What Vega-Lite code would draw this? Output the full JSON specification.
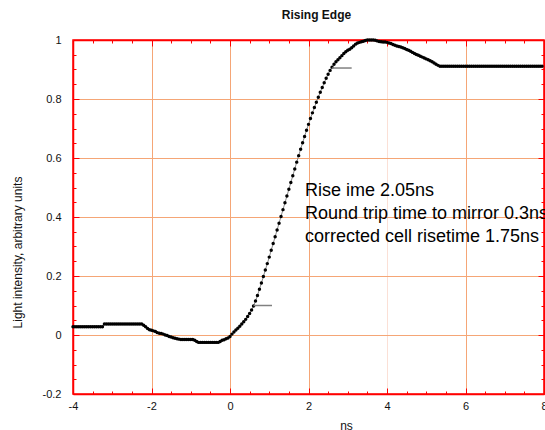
{
  "$schema": "https://vega.github.io/schema/vega-lite/v6.json",
  "autosize": {"type": "none"},
  "padding": {"left": 73, "top": 40, "right": 1, "bottom": 36},
  "width": 471,
  "height": 354,
  "title": {"text": "Rising  Edge", "font": "Liberation Sans", "fontSize": 12, "fontWeight": "bold", "color": "#111", "offset": 12, "dx": 8},
  "config": {
    "view": {"stroke": "#ff0000", "strokeWidth": 1.5},
    "font": "Liberation Sans"
  },
  "datasets": {
    "curve": [
      {"t":-4,"v":0.028},{"t":-3.95,"v":0.028},{"t":-3.9,"v":0.028},{"t":-3.85,"v":0.028},{"t":-3.8,"v":0.028},{"t":-3.75,"v":0.028},{"t":-3.7,"v":0.028},{"t":-3.65,"v":0.028},{"t":-3.6,"v":0.028},{"t":-3.55,"v":0.028},{"t":-3.5,"v":0.028},{"t":-3.45,"v":0.028},{"t":-3.4,"v":0.028},{"t":-3.35,"v":0.028},{"t":-3.3,"v":0.028},{"t":-3.25,"v":0.028},
      {"t":-3.2,"v":0.037},{"t":-3.15,"v":0.037},{"t":-3.1,"v":0.037},{"t":-3.05,"v":0.037},{"t":-3,"v":0.037},{"t":-2.95,"v":0.037},{"t":-2.9,"v":0.037},{"t":-2.85,"v":0.037},{"t":-2.8,"v":0.037},{"t":-2.75,"v":0.037},{"t":-2.7,"v":0.037},{"t":-2.65,"v":0.037},{"t":-2.6,"v":0.037},{"t":-2.55,"v":0.037},{"t":-2.5,"v":0.037},{"t":-2.45,"v":0.037},{"t":-2.4,"v":0.037},{"t":-2.35,"v":0.037},{"t":-2.3,"v":0.037},{"t":-2.25,"v":0.037},
      {"t":-2.2,"v":0.033},{"t":-2.15,"v":0.028},{"t":-2.1,"v":0.022},{"t":-2.05,"v":0.018},{"t":-2,"v":0.016},{"t":-1.95,"v":0.014},{"t":-1.9,"v":0.012},{"t":-1.85,"v":0.008},{"t":-1.8,"v":0.006},{"t":-1.75,"v":0.005},{"t":-1.7,"v":0.003},{"t":-1.65,"v":0.0},{"t":-1.6,"v":-0.002},{"t":-1.55,"v":-0.005},{"t":-1.5,"v":-0.007},{"t":-1.45,"v":-0.009},{"t":-1.4,"v":-0.011},{"t":-1.35,"v":-0.013},{"t":-1.3,"v":-0.014},
      {"t":-1.25,"v":-0.015},{"t":-1.2,"v":-0.015},{"t":-1.15,"v":-0.015},{"t":-1.1,"v":-0.015},{"t":-1.05,"v":-0.015},{"t":-1,"v":-0.015},{"t":-0.95,"v":-0.015},
      {"t":-0.9,"v":-0.018},{"t":-0.85,"v":-0.022},
      {"t":-0.8,"v":-0.025},{"t":-0.75,"v":-0.025},{"t":-0.7,"v":-0.025},{"t":-0.65,"v":-0.025},{"t":-0.6,"v":-0.025},{"t":-0.55,"v":-0.025},{"t":-0.5,"v":-0.025},{"t":-0.45,"v":-0.025},{"t":-0.4,"v":-0.025},{"t":-0.35,"v":-0.025},{"t":-0.3,"v":-0.025},
      {"t":-0.25,"v":-0.022},{"t":-0.2,"v":-0.018},{"t":-0.15,"v":-0.016},{"t":-0.1,"v":-0.013},{"t":-0.05,"v":-0.01},{"t":0,"v":-0.005},
      {"t":0.05,"v":0.003},{"t":0.1,"v":0.01},{"t":0.15,"v":0.017},{"t":0.2,"v":0.023},{"t":0.25,"v":0.03},{"t":0.3,"v":0.037},{"t":0.35,"v":0.045},{"t":0.4,"v":0.053},{"t":0.45,"v":0.063},{"t":0.5,"v":0.073},{"t":0.55,"v":0.085},{"t":0.6,"v":0.098},
      {"t":0.65,"v":0.115},{"t":0.7,"v":0.134},{"t":0.75,"v":0.155},{"t":0.8,"v":0.176},{"t":0.85,"v":0.198},{"t":0.9,"v":0.22},{"t":0.95,"v":0.242},{"t":1,"v":0.264},{"t":1.05,"v":0.287},{"t":1.1,"v":0.31},{"t":1.15,"v":0.333},{"t":1.2,"v":0.356},{"t":1.25,"v":0.379},{"t":1.3,"v":0.402},{"t":1.35,"v":0.425},{"t":1.4,"v":0.448},{"t":1.45,"v":0.471},{"t":1.5,"v":0.494},{"t":1.55,"v":0.517},{"t":1.6,"v":0.54},{"t":1.65,"v":0.563},{"t":1.7,"v":0.586},{"t":1.75,"v":0.608},{"t":1.8,"v":0.63},{"t":1.85,"v":0.652},{"t":1.9,"v":0.673},{"t":1.95,"v":0.694},{"t":2,"v":0.714},{"t":2.05,"v":0.734},{"t":2.1,"v":0.753},{"t":2.15,"v":0.771},{"t":2.2,"v":0.789},{"t":2.25,"v":0.806},{"t":2.3,"v":0.823},{"t":2.35,"v":0.839},{"t":2.4,"v":0.855},{"t":2.45,"v":0.87},{"t":2.5,"v":0.884},{"t":2.55,"v":0.897},{"t":2.6,"v":0.908},
      {"t":2.65,"v":0.918},{"t":2.7,"v":0.926},{"t":2.75,"v":0.933},{"t":2.8,"v":0.94},{"t":2.85,"v":0.947},{"t":2.9,"v":0.954},{"t":2.95,"v":0.96},{"t":3,"v":0.965},{"t":3.05,"v":0.969},{"t":3.1,"v":0.974},{"t":3.15,"v":0.98},{"t":3.2,"v":0.986},{"t":3.25,"v":0.99},{"t":3.3,"v":0.992},{"t":3.35,"v":0.994},{"t":3.4,"v":0.996},{"t":3.45,"v":0.998},{"t":3.5,"v":1.0},{"t":3.55,"v":1.0},{"t":3.6,"v":1.0},{"t":3.65,"v":1.0},{"t":3.7,"v":0.999},{"t":3.75,"v":0.997},{"t":3.8,"v":0.995},{"t":3.85,"v":0.994},{"t":3.9,"v":0.993},{"t":3.95,"v":0.993},
      {"t":4,"v":0.992},{"t":4.05,"v":0.99},{"t":4.1,"v":0.988},{"t":4.15,"v":0.985},{"t":4.2,"v":0.982},{"t":4.25,"v":0.98},{"t":4.3,"v":0.978},{"t":4.35,"v":0.976},{"t":4.4,"v":0.974},{"t":4.45,"v":0.971},{"t":4.5,"v":0.968},{"t":4.55,"v":0.965},{"t":4.6,"v":0.962},{"t":4.65,"v":0.958},{"t":4.7,"v":0.954},{"t":4.75,"v":0.951},{"t":4.8,"v":0.948},{"t":4.85,"v":0.945},{"t":4.9,"v":0.942},{"t":4.95,"v":0.939},{"t":5,"v":0.936},{"t":5.05,"v":0.933},{"t":5.1,"v":0.93},{"t":5.15,"v":0.926},{"t":5.2,"v":0.922},{"t":5.25,"v":0.918},{"t":5.3,"v":0.914},
      {"t":5.35,"v":0.911},{"t":5.4,"v":0.911},{"t":5.45,"v":0.911},{"t":5.5,"v":0.911},{"t":5.55,"v":0.911},{"t":5.6,"v":0.911},{"t":5.65,"v":0.911},{"t":5.7,"v":0.911},{"t":5.75,"v":0.911},{"t":5.8,"v":0.911},{"t":5.85,"v":0.911},{"t":5.9,"v":0.911},{"t":5.95,"v":0.911},{"t":6,"v":0.911},{"t":6.05,"v":0.911},{"t":6.1,"v":0.911},{"t":6.15,"v":0.911},{"t":6.2,"v":0.911},{"t":6.25,"v":0.911},{"t":6.3,"v":0.911},{"t":6.35,"v":0.911},{"t":6.4,"v":0.911},{"t":6.45,"v":0.911},{"t":6.5,"v":0.911},{"t":6.55,"v":0.911},{"t":6.6,"v":0.911},{"t":6.65,"v":0.911},{"t":6.7,"v":0.911},{"t":6.75,"v":0.911},{"t":6.8,"v":0.911},{"t":6.85,"v":0.911},{"t":6.9,"v":0.911},{"t":6.95,"v":0.911},{"t":7,"v":0.911},{"t":7.05,"v":0.911},{"t":7.1,"v":0.911},{"t":7.15,"v":0.911},{"t":7.2,"v":0.911},{"t":7.25,"v":0.911},{"t":7.3,"v":0.911},{"t":7.35,"v":0.911},{"t":7.4,"v":0.911},{"t":7.45,"v":0.911},{"t":7.5,"v":0.911},{"t":7.55,"v":0.911},{"t":7.6,"v":0.911},{"t":7.65,"v":0.911},{"t":7.7,"v":0.911},{"t":7.75,"v":0.911},{"t":7.8,"v":0.911},{"t":7.85,"v":0.911},{"t":7.9,"v":0.911},{"t":7.95,"v":0.911}
    ],
    "markers": [
      {"t": 0.6, "t2": 1.07, "v": 0.1},
      {"t": 2.6, "t2": 3.1, "v": 0.905}
    ],
    "notes": [
      {"t": 1.91, "v": 0.488, "label": "Rise ime 2.05ns"},
      {"t": 1.91, "v": 0.41, "label": "Round trip time to mirror 0.3ns"},
      {"t": 1.91, "v": 0.332, "label": "corrected cell risetime 1.75ns"}
    ]
  },
  "resolve": {"axis": {"x": "independent", "y": "independent"}},
  "layer": [
    {
      "data": {"name": "curve"},
      "mark": {"type": "line", "color": "#888888", "strokeWidth": 1},
      "encoding": {
        "x": {"field": "t", "type": "quantitative", "scale": {"domain": [-4, 8], "nice": false, "zero": false},
          "axis": {"orient": "bottom", "title": "ns", "titleFont": "Liberation Sans", "titleFontSize": 12, "titleFontWeight": "normal", "titleColor": "#111", "titleX": 273, "titleY": 31, "titleBaseline": "middle",
            "values": [-4,-3.5,-3,-2.5,-2,-1.5,-1,-0.5,0,0.5,1,1.5,2,2.5,3,3.5,4,4.5,5,5.5,6,6.5,7,7.5,8],
            "labelExpr": "datum.value % 2 === 0 ? toString(datum.value) : ''",
            "labelOverlap": false, "labelFlush": false, "labelFont": "Liberation Sans", "labelFontSize": 11, "labelColor": "#111", "labelPadding": 12,
            "domainColor": "#ff0000", "domainWidth": 1.5,
            "tickColor": "#ff0000", "tickWidth": 1,
            "tickSize": {"condition": {"test": "datum.value % 2 === 0", "value": -6}, "value": -3},
            "grid": true,
            "gridColor": {"condition": {"test": "datum.value === 4", "value": "#fbe0d6"}, "value": "#f5a676"},
            "gridOpacity": {"condition": {"test": "datum.value % 2 !== 0", "value": 0}, "value": 1},
            "gridWidth": 1}},
        "y": {"field": "v", "type": "quantitative", "scale": {"domain": [-0.2, 1], "nice": false, "zero": false},
          "axis": {"orient": "left", "title": "Light intensity, arbitrary units", "titleFont": "Liberation Sans", "titleFontSize": 12, "titleFontWeight": "normal", "titleColor": "#111", "titleX": -56, "titleY": 212, "titleAngle": -90, "titleBaseline": "middle", "titleAlign": "center",
            "values": [-0.2,-0.15,-0.1,-0.05,0,0.05,0.1,0.15,0.2,0.25,0.3,0.35,0.4,0.45,0.5,0.55,0.6,0.65,0.7,0.75,0.8,0.85,0.9,0.95,1],
            "labelExpr": "abs(round(datum.value*20)) % 4 === 0 ? toString(round(datum.value*10)/10) : ''",
            "labelOverlap": false, "labelFlush": false, "labelFont": "Liberation Sans", "labelFontSize": 11, "labelColor": "#111", "labelPadding": 18,
            "domainColor": "#ff0000", "domainWidth": 1.5,
            "tickColor": "#ff0000", "tickWidth": 1,
            "tickSize": {"condition": {"test": "abs(round(datum.value*20)) % 4 === 0", "value": -6}, "value": -3},
            "grid": true,
            "gridColor": "#f5a676",
            "gridOpacity": {"condition": {"test": "abs(round(datum.value*20)) % 4 !== 0", "value": 0}, "value": 1},
            "gridWidth": 1}}
      }
    },
    {
      "data": {"name": "curve"},
      "mark": {"type": "point", "filled": true, "color": "#000000", "size": 12, "opacity": 1},
      "encoding": {
        "x": {"field": "t", "type": "quantitative",
          "axis": {"orient": "top", "title": null, "labels": false, "grid": false,
            "values": [-4,-3.5,-3,-2.5,-2,-1.5,-1,-0.5,0,0.5,1,1.5,2,2.5,3,3.5,4,4.5,5,5.5,6,6.5,7,7.5,8],
            "domainColor": "#ff0000", "domainWidth": 1.5, "tickColor": "#ff0000", "tickWidth": 1,
            "tickSize": {"condition": {"test": "datum.value % 2 === 0", "value": -6}, "value": -3}}},
        "y": {"field": "v", "type": "quantitative",
          "axis": {"orient": "right", "title": null, "labels": false, "grid": false,
            "values": [-0.2,-0.15,-0.1,-0.05,0,0.05,0.1,0.15,0.2,0.25,0.3,0.35,0.4,0.45,0.5,0.55,0.6,0.65,0.7,0.75,0.8,0.85,0.9,0.95,1],
            "domainColor": "#ff0000", "domainWidth": 1.5, "tickColor": "#ff0000", "tickWidth": 1,
            "tickSize": {"condition": {"test": "abs(round(datum.value*20)) % 4 === 0", "value": -6}, "value": -3}}}
      }
    },
    {
      "data": {"name": "markers"},
      "mark": {"type": "rule", "color": "#808080", "strokeWidth": 1.5},
      "encoding": {
        "x": {"field": "t", "type": "quantitative", "axis": null},
        "x2": {"field": "t2"},
        "y": {"field": "v", "type": "quantitative", "axis": null}
      }
    },
    {
      "data": {"name": "notes"},
      "mark": {"type": "text", "align": "left", "baseline": "middle", "font": "Liberation Sans", "fontSize": 18, "color": "#000000"},
      "encoding": {
        "x": {"field": "t", "type": "quantitative", "axis": null},
        "y": {"field": "v", "type": "quantitative", "axis": null},
        "text": {"field": "label"}
      }
    }
  ]
}
